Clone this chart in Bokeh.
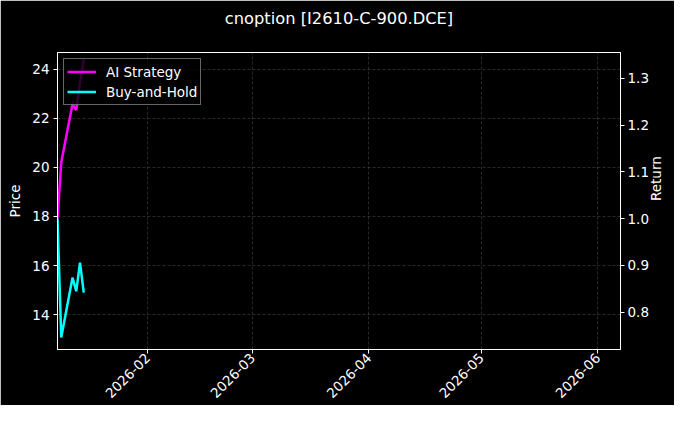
from datetime import datetime
from math import pi

from bokeh.plotting import figure
from bokeh.models import (LinearAxis, Range1d, SingleIntervalTicker, MonthsTicker,
                          DatetimeTickFormatter, NumeralTickFormatter, Legend, LegendItem, Title)
from bokeh.embed import file_html
from bokeh.resources import INLINE

# data
dates = [datetime(2026, 1, 8), datetime(2026, 1, 9), datetime(2026, 1, 12),
         datetime(2026, 1, 13), datetime(2026, 1, 14), datetime(2026, 1, 15)]
ai_strategy = [1.0, 1.12, 1.245, 1.232, 1.29, 1.34]
buy_and_hold = [1.0, 0.746, 0.874, 0.845, 0.906, 0.842]

title_text = "cnoption [I2610-C-900.DCE]"
x_start, x_end = datetime(2026, 1, 8), datetime(2026, 6, 7, 2)
price_lo, price_hi = 12.58, 24.68
ret_lo, ret_hi = 0.7205, 1.355

FONT = "DejaVu Sans"

p = figure(
    width=674,
    height=405,
    x_axis_type="datetime",
    x_range=Range1d(x_start, x_end),
    y_range=Range1d(price_lo, price_hi),
    output_backend="svg",
    toolbar_location=None,
    min_border_left=57,
    min_border_right=44,
    min_border_top=52,
    min_border_bottom=50,
)
p.background_fill_color = "black"
p.border_fill_color = "black"
p.outline_line_color = "white"
p.outline_line_width = 1

p.title.text = title_text
p.title.align = "center"
p.title.text_color = "white"
p.title.text_font = FONT
p.title.text_font_size = "16.3px"
p.title.text_font_style = "normal"
p.title.standoff = 4
# blank spacer between the title and the frame (black on black)
p.add_layout(Title(text=" ", text_font_size="1px", text_color="black", standoff=20), "above")

p.extra_y_ranges["ret"] = Range1d(ret_lo, ret_hi)
right_axis = LinearAxis(y_range_name="ret", axis_label="Return")
p.add_layout(right_axis, "right")

p.xaxis.ticker = MonthsTicker(months=list(range(1, 13)))
p.xaxis.formatter = DatetimeTickFormatter(months="%Y-%m", days="%Y-%m", years="%Y-%m")
p.xaxis.major_label_orientation = pi / 4

p.yaxis[0].axis_label = "Price"
p.yaxis[0].ticker = SingleIntervalTicker(interval=2)
right_axis.ticker = SingleIntervalTicker(interval=0.1)
right_axis.formatter = NumeralTickFormatter(format="0.0")

for ax in p.axis:
    ax.axis_line_color = "white"
    ax.major_tick_line_color = "white"
    ax.minor_tick_line_color = None
    ax.major_tick_out = 4
    ax.major_tick_in = 0
    ax.major_label_text_color = "white"
    ax.major_label_text_font = FONT
    ax.major_label_text_font_size = "13.5px"
    ax.axis_label_text_color = "white"
    ax.axis_label_text_font = FONT
    ax.axis_label_text_font_size = "13.5px"
    ax.axis_label_text_font_style = "normal"
    ax.major_label_standoff = 4
    ax.axis_label_standoff = 6

p.xaxis.major_label_standoff = 2
right_axis.axis_label_orientation = pi / 2
right_axis.major_label_standoff = 3
right_axis.axis_label_standoff = 4

for g in (p.xgrid, p.ygrid):
    g.grid_line_color = "#888888"
    g.grid_line_alpha = 0.5
    g.grid_line_dash = "3 2"
    g.grid_line_width = 0.6

l1 = p.line(dates, ai_strategy, line_color="#ff00ff", line_width=2.5, y_range_name="ret")
l2 = p.line(dates, buy_and_hold, line_color="#00ffff", line_width=2.5, y_range_name="ret")

legend = Legend(items=[LegendItem(label="AI Strategy", renderers=[l1]),
                       LegendItem(label="Buy-and-Hold", renderers=[l2])],
                location="top_left")
legend.background_fill_color = "black"
legend.background_fill_alpha = 0.8
legend.border_line_color = "#cccccc"
legend.border_line_width = 1
legend.label_text_color = "white"
legend.label_text_font = FONT
legend.label_text_font_size = "13.5px"
legend.glyph_width = 29
legend.glyph_height = 19
legend.label_height = 19
legend.label_standoff = 10
legend.padding = 3
legend.spacing = 1
legend.margin = 6
p.add_layout(legend)

open("out.html", "w").write(file_html(p, INLINE))
